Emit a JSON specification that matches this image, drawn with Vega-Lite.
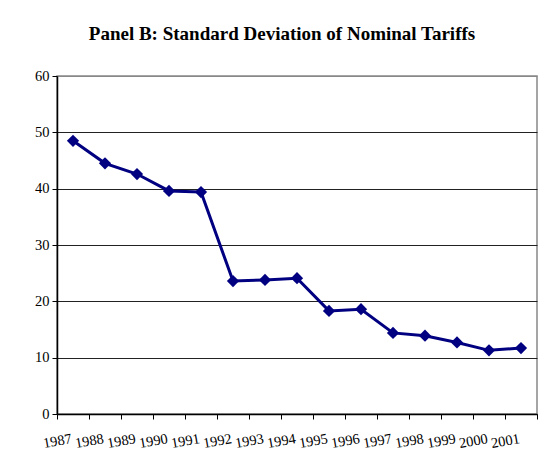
{
  "$schema": "https://vega.github.io/schema/vega-lite/v6.json",
  "width": 480,
  "height": 338,
  "autosize": {"type": "none"},
  "padding": {"left": 57, "top": 76, "right": 8, "bottom": 54},
  "background": "white",
  "title": {
    "text": "Panel B: Standard Deviation of Nominal Tariffs",
    "font": "Liberation Serif",
    "fontSize": 19,
    "fontWeight": "bold",
    "color": "black",
    "anchor": "middle",
    "frame": "group",
    "dx": -15,
    "offset": 24
  },
  "data": {
    "values": [
      {"year": "1987", "sd": 48.5},
      {"year": "1988", "sd": 44.5},
      {"year": "1989", "sd": 42.6},
      {"year": "1990", "sd": 39.6},
      {"year": "1991", "sd": 39.4},
      {"year": "1992", "sd": 23.6},
      {"year": "1993", "sd": 23.8},
      {"year": "1994", "sd": 24.1},
      {"year": "1995", "sd": 18.3},
      {"year": "1996", "sd": 18.6},
      {"year": "1997", "sd": 14.4},
      {"year": "1998", "sd": 13.9},
      {"year": "1999", "sd": 12.7},
      {"year": "2000", "sd": 11.3},
      {"year": "2001", "sd": 11.7}
    ]
  },
  "encoding": {
    "x": {
      "field": "year",
      "type": "ordinal",
      "scale": {"type": "band", "paddingInner": 0, "paddingOuter": 0},
      "axis": {
        "title": null,
        "labelAngle": -10,
        "labelOffset": -16,
        "labelPadding": 22,
        "labelFont": "Liberation Serif",
        "labelFontSize": 14.5,
        "labelColor": "black",
        "labelAlign": "center",
        "labelBaseline": "middle",
        "tickBand": "extent",
        "tickSize": 5,
        "tickColor": "black",
        "domainColor": "black",
        "domainWidth": 1.5,
        "grid": false
      }
    },
    "y": {
      "field": "sd",
      "type": "quantitative",
      "scale": {"domain": [0, 60], "nice": false},
      "axis": {
        "title": null,
        "values": [0, 10, 20, 30, 40, 50, 60],
        "labelFont": "Liberation Serif",
        "labelFontSize": 14.5,
        "labelColor": "black",
        "labelPadding": 3,
        "tickSize": 5,
        "tickColor": "black",
        "domainColor": "black",
        "domainWidth": 1.5,
        "grid": true,
        "gridColor": {"condition": {"test": "datum.value == 60", "value": "#888888"}, "value": "#222222"},
        "gridWidth": 1,
        "gridOpacity": 1
      }
    }
  },
  "layer": [
    {
      "mark": {"type": "line", "color": "#000080", "strokeWidth": 3}
    },
    {
      "mark": {"type": "point", "shape": "diamond", "filled": true, "color": "#000080", "size": 150, "opacity": 1}
    }
  ],
  "config": {
    "view": {"stroke": "#888888", "strokeWidth": 1.5}
  }
}
